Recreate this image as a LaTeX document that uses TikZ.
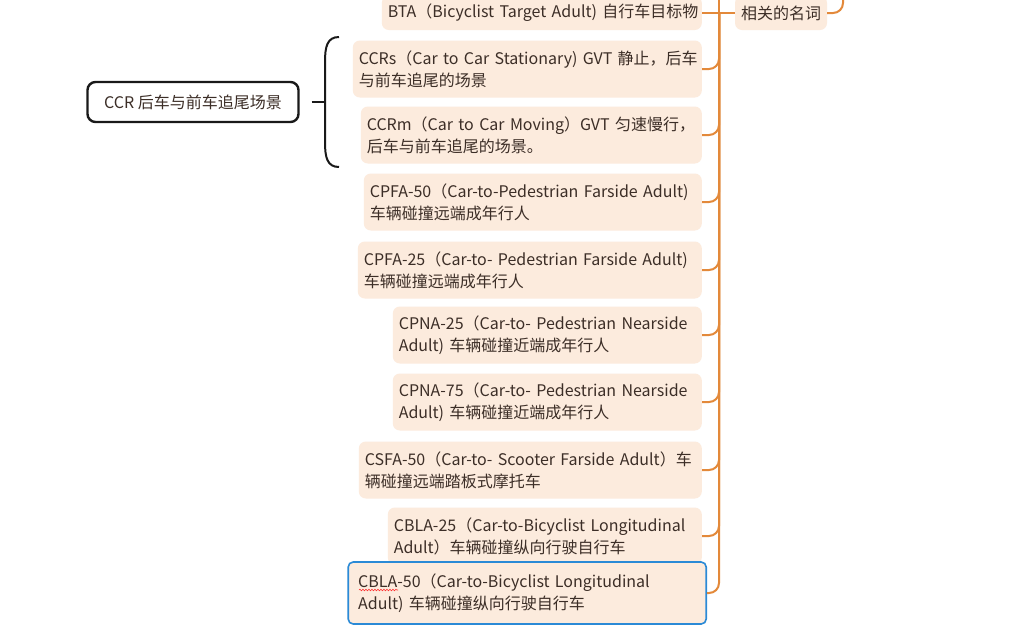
\documentclass[tikz,border=0pt]{standalone}
\usepackage{fontspec}
\setmainfont{Noto Sans CJK SC}
\usetikzlibrary{decorations.pathmorphing}
\definecolor{peach}{HTML}{FCEBDD}
\definecolor{branchorange}{HTML}{E3893A}
\definecolor{ink}{HTML}{3C2E27}
\definecolor{focusblue}{HTML}{2B8AD6}
\tikzset{
  topic/.style={fill=peach, rounded corners=7pt, text=ink, align=left, anchor=east,
    inner xsep=6pt, inner ysep=0pt, minimum height=57pt, font=\fontsize{16}{22}\selectfont,
    execute at begin node={\hyphenpenalty=10000\exhyphenpenalty=10000\hbadness=10000\hfuzz=20pt}},
  branch/.style={draw=branchorange, line width=2pt, rounded corners=10pt},
  summary/.style={draw=black!90, line width=2pt},
}
\begin{document}
\begin{tikzpicture}[x=1pt,y=-1pt]
    \useasboundingbox[fill=white] (0,0) rectangle (1036,630);
    % topics hanging off the spine
    \node[topic, minimum height=34pt, text width=308pt] (bta) at (702,13) {BTA（Bicyclist~Target~Adult)~自行车目标物};
    \node[topic, text width=337pt] (ccrs) at (702,69) {CCRs（Car~to~Car~Stationary)~GVT~静止，后车\\与前车追尾的场景};
    \node[topic, text width=329pt] (ccrm) at (702,135) {CCRm（Car~to~Car~Moving）GVT~匀速慢行，\\后车与前车追尾的场景。};
    \node[topic, text width=326pt] (cpfa50) at (702,202) {CPFA-50（Car-to-Pedestrian~Farside~Adult)\\车辆碰撞远端成年行人};
    \node[topic, text width=332pt] (cpfa25) at (702,270) {CPFA-25（Car-to-~Pedestrian~Farside~Adult)\\车辆碰撞远端成年行人};
    \node[topic, text width=297pt] (cpna25) at (702,335) {CPNA-25（Car-to-~Pedestrian~Nearside\\Adult)~车辆碰撞近端成年行人};
    \node[topic, text width=297pt] (cpna75) at (702,402) {CPNA-75（Car-to-~Pedestrian~Nearside\\Adult)~车辆碰撞近端成年行人};
    \node[topic, text width=331pt] (csfa50) at (702,470) {CSFA-50（Car-to-~Scooter~Farside~Adult）车\\辆碰撞远端踏板式摩托车};
    \node[topic, text width=302pt] (cbla25) at (702,536) {CBLA-25（Car-to-Bicyclist~Longitudinal\\Adult）车辆碰撞纵向行驶自行车};
    \node[topic, draw=focusblue, line width=1.6pt, rounded corners=5pt, minimum height=62pt,
        inner xsep=10pt, text width=338pt] (cbla50) at (707,593) {CBLA-50（Car-to-Bicyclist~Longitudinal\\Adult)~车辆碰撞纵向行驶自行车};
    % parent term
    \node[topic, anchor=center, minimum height=34pt, inner xsep=6pt] (term) at (781,13) {相关的名词};
    \coordinate (hub) at (719,13);
    \coordinate (up) at (843,-12);
    % spine and branches
    \draw[branch] (hub) -- ++(0,-20);
    \draw[branch] (bta) -- (term);
    \foreach \t in {ccrs,ccrm,cpfa50,cpfa25,cpna25,cpna75,csfa50,cbla25,cbla50}
        \draw[branch] (\t.east) -| (hub);
    \draw[branch] (term.east) -| (up);
    % summary on the left
    \node[draw=black!90, line width=2.4pt, fill=white, rounded corners=8pt, text=ink,
        minimum width=211pt, minimum height=40pt, font=\fontsize{16}{22}\selectfont] (ccr) at (193,102) {CCR 后车与前车追尾场景};
    \coordinate (bracetip) at (325,102);
    \draw[summary, shorten <=12pt] (ccr) -- (bracetip);
    \draw[summary] (339,37) .. controls (327,37) and (325,47) .. (325,62) -- (325,142) .. controls (325,157) and (327,167) .. (339,167);
    % spell-check mark
    \draw[red!80, line width=0.6pt, decorate, decoration={snake, amplitude=0.8pt, segment length=3pt}] (359,590) -- (398,590);
\end{tikzpicture}
\end{document}
